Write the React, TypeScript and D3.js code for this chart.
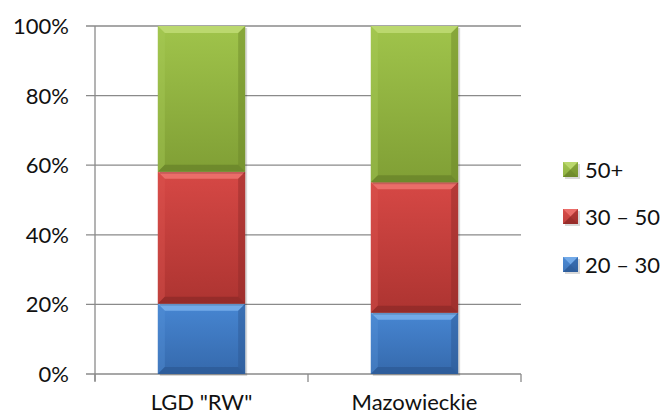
import React from "react";
import * as d3 from "d3";

const categories = ['LGD "RW"', "Mazowieckie"];
const seriesNames = ["20 – 30", "30 – 50", "50+"];
const values20_30 = [20.2, 17.6];
const values30_50 = [37.9, 37.5];
const values50plus = [41.9, 44.9];
const yTicks = [0, 20, 40, 60, 80, 100];

const W = 665;
const H = 416;
const left = 95;
const right = 521;
const top = 26;
const bottom = 374;
const FONT = "Lato, 'Open Sans', sans-serif";

const palette: Record<string, { light: string; dark: string; top: string; bottom: string; side: string; sideDark: string }> = {
  "20 – 30": { light: "#4786d2", dark: "#3569ac", top: "#7ab0ec", bottom: "#2a5590", side: "#5590d8", sideDark: "#2c5690" },
  "30 – 50": { light: "#d64845", dark: "#ad3431", top: "#ee7470", bottom: "#862725", side: "#dc5451", sideDark: "#8e2a28" },
  "50+": { light: "#a0c44b", dark: "#809f35", top: "#c0dc74", bottom: "#627c26", side: "#a8ca58", sideDark: "#6a8628" },
};

function Bevel({ x, y, w, h, name, id }: { x: number; y: number; w: number; h: number; name: string; id: string }) {
  const c = palette[name];
  const b = Math.min(7, h / 2, w / 2);
  const x2 = x + w;
  const y2 = y + h;
  const pts = (arr: number[][]) => arr.map((p) => p.join(",")).join(" ");
  return (
    <g>
      <defs>
        <linearGradient id={id} x1="0" y1="0" x2="0" y2="1">
          <stop offset="0" stopColor={c.light} />
          <stop offset="1" stopColor={c.dark} />
        </linearGradient>
      </defs>
      <rect x={x + 2} y={y + 2} width={w} height={h} fill="rgba(0,0,0,0.15)" />
      <rect x={x} y={y} width={w} height={h} fill={`url(#${id})`} />
      <polygon points={pts([[x, y], [x2, y], [x2 - b, y + b], [x + b, y + b]])} fill={c.top} opacity={0.85} />
      <polygon points={pts([[x, y], [x + b, y + b], [x + b, y2 - b], [x, y2]])} fill={c.side} opacity={0.4} />
      <polygon points={pts([[x2, y], [x2, y2], [x2 - b, y2 - b], [x2 - b, y + b]])} fill={c.sideDark} opacity={0.45} />
      <polygon points={pts([[x, y2], [x + b, y2 - b], [x2 - b, y2 - b], [x2, y2]])} fill={c.bottom} opacity={0.6} />
    </g>
  );
}

export default function App() {
  const x = d3.scaleBand<string>().domain(categories).range([left, right]).paddingInner(0.59).paddingOuter(0.295);
  const y = d3.scaleLinear().domain([0, 100]).range([bottom, top]);

  const rows = categories.map((cat, i) => ({
    cat,
    "20 – 30": values20_30[i],
    "30 – 50": values30_50[i],
    "50+": values50plus[i],
  }));
  const stacked = d3.stack<any>().keys(seriesNames)(rows);

  const step = x.step();
  const xTicks = [left, ...categories.map((_, i) => left + step * (i + 1))];

  const legendItems = [...seriesNames].reverse();
  const legendY = [170, 217, 265];

  return (
    <svg width={W} height={H} style={{ position: "absolute", left: 0, top: 0, background: "#fff" }} fontFamily={FONT}>
      {yTicks.map((t) => (
        <g key={t}>
          <line x1={86} x2={right} y1={y(t)} y2={y(t)} stroke="#8a8a8a" strokeWidth={1.3} />
          <text x={69} y={y(t)} dy="0.36em" textAnchor="end" fontSize={22} fill="#111">
            {t}%
          </text>
        </g>
      ))}
      <line x1={left} x2={left} y1={top} y2={bottom + 7} stroke="#8a8a8a" strokeWidth={1.3} />
      {xTicks.map((tx, i) => (
        <line key={i} x1={tx} x2={tx} y1={bottom} y2={bottom + 8} stroke="#8a8a8a" strokeWidth={1.3} />
      ))}
      {stacked.map((s) =>
        s.map((d, i) => (
          <Bevel
            key={s.key + i}
            id={`g-${seriesNames.indexOf(s.key)}-${i}`}
            name={s.key}
            x={x(categories[i]) as number}
            y={y(d[1])}
            w={x.bandwidth()}
            h={y(d[0]) - y(d[1])}
          />
        ))
      )}
      {categories.map((c) => (
        <text key={c} x={(x(c) as number) + x.bandwidth() / 2} y={410} textAnchor="middle" fontSize={22} fill="#111">
          {c}
        </text>
      ))}
      {legendItems.map((n, i) => (
        <g key={n}>
          <Bevel id={`lg-${i}`} name={n} x={563} y={legendY[i] - 8} w={15} h={15} />
          <text x={585} y={legendY[i]} dy="0.36em" fontSize={22} fill="#111">
            {n}
          </text>
        </g>
      ))}
    </svg>
  );
}
